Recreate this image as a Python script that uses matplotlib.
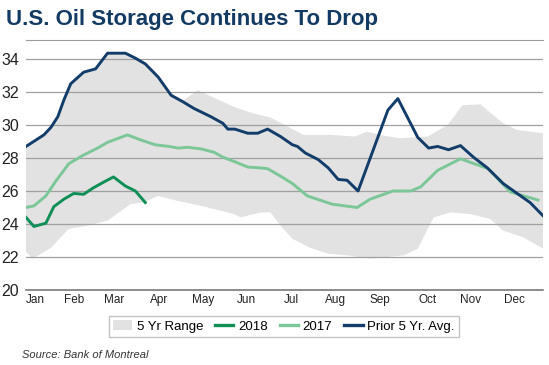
import numpy as np
import matplotlib.pyplot as plt
from matplotlib.patches import Patch
from matplotlib.lines import Line2D

# Données (semaines depuis début janvier, millions de barils)
months = ["Jan", "Feb", "Mar", "Apr", "May", "Jun",
          "Jul", "Aug", "Sep", "Oct", "Nov", "Dec"]
month_pos = [0.9, 4.8, 8.9, 13.4, 17.8, 22.2, 26.7, 31.1, 35.6, 40.4, 44.7, 49.1]

avg_w = [0, 1.8, 2.5, 3.2, 3.8, 4.5, 5.8, 7, 8.2, 10, 11, 12, 13.3, 14.6, 15.8,
         16.9, 18.6, 19.8, 20.3, 21, 22.3, 23.3, 24.3, 25.6, 26.8, 27.3, 28.1,
         29.4, 30.4, 31.4, 32.3, 33.4, 36.4, 37.4, 39.4, 40.5, 41.4, 42.5, 43.7,
         45, 46.4, 48, 49.4, 50.7, 52]
avg_v = [28.7, 29.4, 29.85, 30.5, 31.5, 32.5, 33.2, 33.4, 34.35, 34.35, 34.05,
         33.7, 32.9, 31.8, 31.4, 31.0, 30.5, 30.1, 29.75, 29.75, 29.5, 29.5,
         29.75, 29.3, 28.8, 28.7, 28.3, 27.9, 27.4, 26.7, 26.65, 26.0, 30.9,
         31.6, 29.25, 28.6, 28.7, 28.5, 28.75, 28.05, 27.4, 26.45, 25.85, 25.3,
         24.5]

y2017_w = [0, 0.8, 2, 3, 4.3, 5.7, 7.2, 8.2, 10.2, 11.5, 13, 14.4, 15.3, 16.3,
           17.6, 18.9, 19.8, 21.1, 22.3, 23.6, 24.3, 25.6, 26.8, 28.3, 30.8,
           33.3, 34.6, 36.9, 38.7, 39.7, 41.4, 43.7, 46.5, 48.7, 51.5]
y2017_v = [25.0, 25.1, 25.7, 26.6, 27.65, 28.15, 28.6, 28.95, 29.4, 29.1, 28.8,
           28.7, 28.6, 28.65, 28.55, 28.35, 28.05, 27.75, 27.45, 27.4, 27.35,
           26.9, 26.45, 25.7, 25.2, 25.0, 25.5, 26.0, 26.0, 26.25, 27.25, 27.95,
           27.35, 25.95, 25.45]

y2018_w = [0, 0.8, 2, 2.8, 3.8, 4.8, 5.8, 6.8, 8, 8.8, 10, 11, 12]
y2018_v = [24.4, 23.85, 24.05, 25.05, 25.5, 25.85, 25.8, 26.2, 26.6, 26.85,
           26.3, 26.0, 25.3]

hi_w = [0, 1.8, 2.5, 3.2, 3.8, 4.5, 5.8, 7, 8.2, 10, 11, 12, 13.3, 14.6, 15.8,
        17.3, 20.9, 22.9, 24.6, 27.9, 30.6, 33.1, 34.3, 35.6, 37.5, 40.4, 42.4,
        43.9, 45.7, 48, 49.4, 52]
hi_v = [28.75, 29.45, 29.9, 30.55, 31.55, 32.55, 33.25, 33.45, 34.4, 34.4,
        34.1, 33.75, 32.95, 31.85, 31.5, 32.1, 31.1, 30.7, 30.45, 29.4, 29.4,
        29.3, 29.6, 29.4, 29.2, 29.3, 30.0, 31.2, 31.25, 30.1, 29.7, 29.5]

lo_w = [0, 0.7, 2.5, 3.5, 4.3, 6.2, 8.2, 10.5, 11.8, 13.3, 14.9, 17.6, 19.6,
        20.9, 21.6, 23.6, 24.6, 25.6, 26.8, 28.6, 30.4, 32.3, 34.6, 38, 39.4,
        41, 42.7, 44.7, 46.7, 48, 50, 52]
lo_v = [22.3, 21.9, 22.55, 23.2, 23.7, 23.9, 24.2, 25.2, 25.3, 25.7, 25.45,
        25.1, 24.8, 24.6, 24.4, 24.7, 24.7, 23.9, 23.1, 22.55, 22.2, 22.1, 21.9,
        22.1, 22.5, 24.4, 24.7, 24.6, 24.3, 23.6, 23.2, 22.5]

navy = "#123d6a"
vert_fonce = "#0f8f55"
vert_clair = "#7cc797"
gris = "#e2e2e2"

plt.rcParams['font.family'] = ['Liberation Sans', 'DejaVu Sans']

fig = plt.figure(figsize=(5.49, 3.65), dpi=100)
ax = fig.add_axes([26/549, 1-290/365, (543-26)/549, (290-40)/365])

ax.fill(np.r_[hi_w, lo_w[::-1]], np.r_[hi_v, lo_v[::-1]],
        color=gris, lw=0, zorder=1)
for y in range(22, 35, 2):
    ax.axhline(y, color="#a0a0a0", lw=0.9, zorder=2)
ax.plot(y2017_w, y2017_v, color=vert_clair, lw=2.1, zorder=3)
ax.plot(y2018_w, y2018_v, color=vert_fonce, lw=2.1, zorder=4)
ax.plot(avg_w, avg_v, color=navy, lw=2.1, zorder=5)

ax.set_xlim(0, 52)
ax.set_ylim(20, 35.15)
for s in ["left", "right"]:
    ax.spines[s].set_visible(False)
ax.spines["top"].set_color("#9a9a9a")
ax.spines["bottom"].set_color("#6e6e6e")
ax.spines["bottom"].set_linewidth(1.1)

ax.set_yticks(range(20, 35, 2))
ax.tick_params(axis="y", length=0, pad=5, labelsize=11.5, labelcolor="#222222")
ax.set_xticks(month_pos)
ax.set_xticklabels(months, fontsize=8.5, color="#222222")
ax.tick_params(axis="x", length=0, pad=3)

fig.text(6/549, 1-20/365, "U.S. Oil Storage Continues To Drop",
         fontsize=16, fontweight="bold", color="#133a63", va="center")

handles = [Patch(facecolor=gris, edgecolor="none"),
           Line2D([], [], color=vert_fonce, lw=2.4),
           Line2D([], [], color=vert_clair, lw=2.4),
           Line2D([], [], color=navy, lw=2.4)]
labels = ["5 Yr Range", "2018", "2017", "Prior 5 Yr. Avg."]
leg = fig.legend(handles, labels, loc="center", ncol=4,
                 bbox_to_anchor=(284/549, 1-326.5/365), fontsize=9.5,
                 frameon=True, fancybox=False, handlelength=1.4,
                 handletextpad=0.35, columnspacing=0.9, borderpad=0.35)
leg.get_frame().set_edgecolor("#b5b5b5")
leg.get_frame().set_linewidth(1.0)

fig.text(22/549, 1-355/365, "Source: Bank of Montreal", fontsize=8,
         style="italic", color="#333333", va="center")

fig.savefig("out.png", dpi=100)
